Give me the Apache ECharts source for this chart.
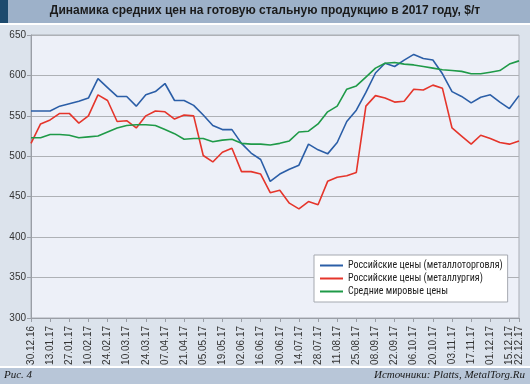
<!DOCTYPE html>
<html>
<head>
<meta charset="utf-8">
<script src="https://cdn.jsdelivr.net/npm/echarts@6/dist/echarts.min.js"></script>
<style>
html,body{margin:0;padding:0;background:#dce3ec;}
#chart{width:530px;height:384px;}
</style>
</head>
<body>
<div id="chart"></div>
<script>
var titleText = 'Динамика средних цен на готовую стальную продукцию в 2017 году, $/т';
var figureText = 'Рис. 4';
var sourceText = 'Источники: Platts, MetalTorg.Ru';

var dates = ['30.12.16','06.01.17','13.01.17','20.01.17','27.01.17','03.02.17','10.02.17','17.02.17','24.02.17','03.03.17',
'10.03.17','17.03.17','24.03.17','31.03.17','07.04.17','14.04.17','21.04.17','28.04.17','05.05.17','12.05.17',
'19.05.17','26.05.17','02.06.17','09.06.17','16.06.17','23.06.17','30.06.17','07.07.17','14.07.17','21.07.17',
'28.07.17','04.08.17','11.08.17','18.08.17','25.08.17','01.09.17','08.09.17','15.09.17','22.09.17','29.09.17',
'06.10.17','13.10.17','20.10.17','27.10.17','03.11.17','10.11.17','17.11.17','24.11.17','01.12.17','08.12.17',
'15.12.17','22.12.17'];

var seriesNames = ['Российские цены (металлоторговля)', 'Российские цены (металлургия)', 'Средние мировые цены'];

var tradePrices = [556,556,556,562,565,568,572,596,585,574,
574,562,576,580,590,569,569,563,551,538,
533,533,516,504,496,469,478,484,489,515,
508,503,517,543,557,579,603,615,611,619,
626,621,619,602,580,574,566,573,576,567,
559,575];

var millPrices = [516,540,545,553,553,541,550,576,569,543,
544,535,550,556,555,546,551,550,501,493,
505,510,481,481,478,455,458,442,435,444,
440,469,474,476,480,562,575,572,567,568,
583,582,588,584,535,525,515,526,522,517,
515,519];

var worldPrices = [523,523,527,527,526,523,524,525,530,535,
538,539,539,538,533,528,521,522,522,518,
520,521,516,515,515,514,516,519,530,531,
540,555,562,583,587,598,609,615,616,614,
613,611,609,607,606,605,602,602,604,606,
614,618];

var yMin = 300, yMax = 650, yStep = 50;

var colors = ['#2b5ea7', '#e5352b', '#1f9a48'];

var chart = echarts.init(document.getElementById('chart'), null, {renderer: 'canvas'});

var lastIdx = dates.length - 1;
function evenShown(idx) { return idx % 2 === 0; }
function tickShown(idx) { return idx % 2 === 0 || idx === lastIdx; }

var labelFont = {rotate: 90, fontSize: 10, color: '#333', margin: 8, fontFamily: 'Liberation Sans, Arial, sans-serif'};

var option = {
  animation: false,
  backgroundColor: '#dce3ec',
  textStyle: {fontFamily: 'Liberation Sans, Arial, sans-serif'},
  graphic: [
    {type: 'rect', left: 0, top: 0, shape: {width: 530, height: 23}, style: {fill: '#9db1c9'}, z: -1},
    {type: 'rect', left: 0, top: 0, shape: {width: 8, height: 23}, style: {fill: '#1c4a6e'}, z: -1},
    {type: 'rect', left: 0, top: 23, shape: {width: 530, height: 2}, style: {fill: '#ffffff'}, z: -1},
    {type: 'rect', left: 0, top: 366, shape: {width: 530, height: 2}, style: {fill: '#ffffff'}, z: -1},
    {type: 'rect', left: 0, top: 368, shape: {width: 530, height: 16}, style: {fill: '#b8c6d8'}, z: -1},
    {type: 'text', left: 'center', top: 5, style: {text: titleText, fill: '#1a1a1a', font: 'bold 12px "Liberation Sans", Arial, sans-serif'}},
    {type: 'text', left: 4, top: 370, style: {text: figureText, fill: '#1a1a1a', font: 'italic 11px "Liberation Serif", "Times New Roman", serif'}},
    {type: 'text', right: 5, top: 370, style: {text: sourceText, fill: '#1a1a1a', font: 'italic 11px "Liberation Serif", "Times New Roman", serif'}}
  ],
  grid: {
    left: 31, right: 11, top: 35, bottom: 66,
    show: true, backgroundColor: '#edf0f8', borderColor: '#a9adb5', borderWidth: 1,
    containLabel: false
  },
  legend: {
    orient: 'vertical',
    left: 314, top: 255,
    backgroundColor: '#ffffff',
    borderColor: '#a5a9b0', borderWidth: 1,
    padding: [4, 5, 4, 6],
    itemGap: 0,
    itemWidth: 23, itemHeight: 2,
    icon: 'rect',
    textStyle: {fontSize: 10, color: '#222', lineHeight: 13, fontFamily: '"Liberation Sans Narrow", "Roboto Condensed", "DejaVu Sans Condensed", sans-serif'},
    data: seriesNames
  },
  xAxis: [
    {
      type: 'category',
      position: 'bottom',
      data: dates,
      boundaryGap: false,
      axisLine: {lineStyle: {color: '#9a9ea6', width: 1}},
      axisTick: {show: true, length: 4, interval: function (idx) { return tickShown(idx); }, lineStyle: {color: '#9a9ea6'}},
      axisLabel: Object.assign({interval: function (idx) { return evenShown(idx); }}, labelFont),
      splitLine: {show: false}
    },
    {
      type: 'category',
      position: 'bottom',
      data: dates,
      boundaryGap: false,
      axisLine: {show: false},
      axisTick: {show: false},
      axisLabel: Object.assign({interval: function (idx) { return idx === lastIdx; }}, labelFont),
      splitLine: {show: false}
    }
  ],
  yAxis: {
    type: 'value',
    min: yMin, max: yMax, interval: yStep,
    axisLine: {show: true, lineStyle: {color: '#9a9ea6'}},
    axisTick: {show: true, length: 4, lineStyle: {color: '#9a9ea6'}},
    axisLabel: {fontSize: 10, color: '#333', margin: 5, fontFamily: 'Liberation Sans, Arial, sans-serif'},
    splitLine: {show: true, lineStyle: {color: '#aeb1b6', width: 1}}
  },
  series: [
    {name: seriesNames[0], type: 'line', xAxisIndex: 0, data: tradePrices, color: colors[0], showSymbol: false, symbol: 'none', lineStyle: {width: 1.6, color: colors[0]}},
    {name: seriesNames[1], type: 'line', xAxisIndex: 0, data: millPrices, color: colors[1], showSymbol: false, symbol: 'none', lineStyle: {width: 1.6, color: colors[1]}},
    {name: seriesNames[2], type: 'line', xAxisIndex: 0, data: worldPrices, color: colors[2], showSymbol: false, symbol: 'none', lineStyle: {width: 1.6, color: colors[2]}}
  ]
};
chart.setOption(option);
</script>
</body>
</html>
